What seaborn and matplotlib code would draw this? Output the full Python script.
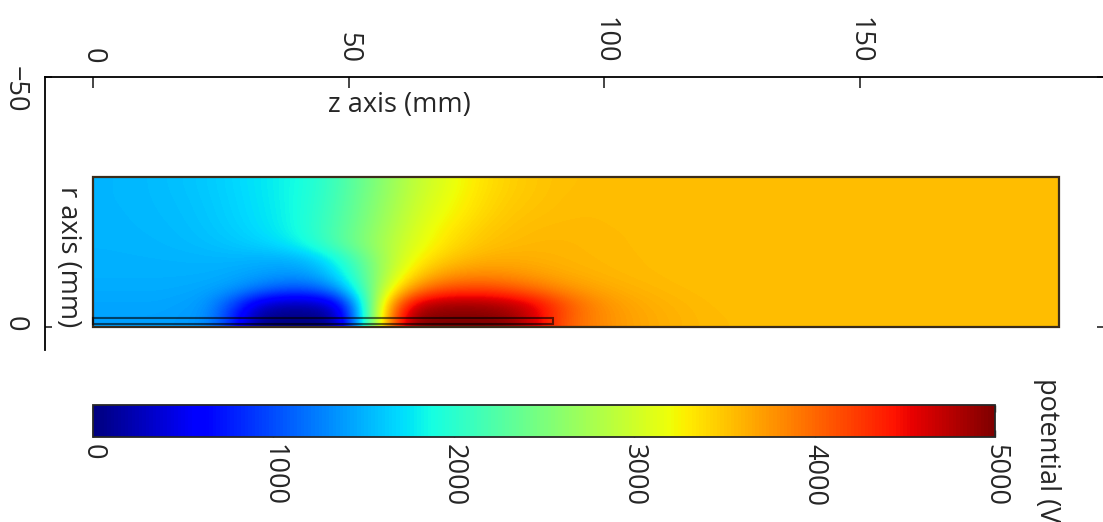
import numpy as np
import matplotlib
matplotlib.use("Agg")
import matplotlib.pyplot as plt
from matplotlib.patches import Rectangle
import seaborn as sns

# domain of the simulation (mm)
z_length = 189
r_length = 30
# electrode rod outline (z from, z to, r from, r to)
rod = [0, 90, -1.8, -0.7]

# potential (V), cells are 5 mm in z, 3 mm in r
# each row runs z = 2.5 ... 187.5 mm, rows from r = -28.5 down to r = -1.5
pot_r28 = [1520, 1530, 1550, 1580, 1620, 1680, 1750, 1830, 1930, 2120, 2370, 2620, 2880,
           3060, 3230, 3360, 3450, 3500, 3530, 3540, 3540, 3540, 3540, 3540, 3540,
           3540, 3540, 3540, 3540, 3540, 3540, 3540, 3540, 3540, 3540, 3540, 3540, 3540]
pot_r25 = [1520, 1530, 1545, 1570, 1610, 1670, 1740, 1830, 1950, 2140, 2400, 2660, 2920,
           3110, 3260, 3390, 3470, 3510, 3540, 3550, 3550, 3545, 3540, 3540, 3540,
           3540, 3540, 3540, 3540, 3540, 3540, 3540, 3540, 3540, 3540, 3540, 3540, 3540]
pot_r22 = [1515, 1525, 1540, 1560, 1600, 1660, 1730, 1820, 1960, 2170, 2430, 2700, 2960,
           3160, 3300, 3420, 3500, 3530, 3550, 3555, 3550, 3545, 3540, 3540, 3540,
           3540, 3540, 3540, 3540, 3540, 3540, 3540, 3540, 3540, 3540, 3540, 3540, 3540]
pot_r19 = [1510, 1520, 1530, 1550, 1585, 1640, 1710, 1810, 1970, 2200, 2470, 2750, 3020,
           3230, 3370, 3480, 3530, 3560, 3565, 3560, 3555, 3550, 3545, 3540, 3540,
           3540, 3540, 3540, 3540, 3540, 3540, 3540, 3540, 3540, 3540, 3540, 3540, 3540]
pot_r16 = [1505, 1510, 1520, 1535, 1560, 1600, 1650, 1730, 1910, 2200, 2500, 2800, 3070,
           3280, 3430, 3520, 3560, 3580, 3580, 3570, 3560, 3550, 3545, 3540, 3540,
           3540, 3540, 3540, 3540, 3540, 3540, 3540, 3540, 3540, 3540, 3540, 3540, 3540]
pot_r13 = [1500, 1500, 1502, 1505, 1510, 1510, 1490, 1480, 1550, 1820, 2270, 2780, 3170,
           3420, 3550, 3620, 3630, 3610, 3590, 3575, 3565, 3555, 3545, 3540, 3540,
           3540, 3540, 3540, 3540, 3540, 3540, 3540, 3540, 3540, 3540, 3540, 3540, 3540]
pot_r10 = [1490, 1490, 1490, 1490, 1485, 1460, 1420, 1380, 1400, 1650, 2170, 2820, 3350,
           3650, 3780, 3800, 3760, 3700, 3640, 3600, 3575, 3560, 3550, 3540, 3540,
           3540, 3540, 3540, 3540, 3540, 3540, 3540, 3540, 3540, 3540, 3540, 3540, 3540]
pot_r7 = [1470, 1470, 1470, 1460, 1440, 1380, 1200, 1050, 1050, 1300, 2000, 3000, 3750,
          4100, 4200, 4200, 4100, 3950, 3800, 3700, 3630, 3590, 3565, 3550, 3540,
          3540, 3540, 3540, 3540, 3540, 3540, 3540, 3540, 3540, 3540, 3540, 3540, 3540]
pot_r4 = [1440, 1440, 1440, 1420, 1370, 950, 380, 200, 200, 400, 1600, 3450, 4600,
          4850, 4880, 4850, 4750, 4520, 4150, 3880, 3730, 3650, 3600, 3570, 3550,
          3540, 3540, 3540, 3540, 3540, 3540, 3540, 3540, 3540, 3540, 3540, 3540, 3540]
pot_r1 = [1420, 1420, 1420, 1400, 1350, 800, 80, 0, 0, 100, 1500, 3650, 4900,
          5000, 5000, 5000, 4900, 4550, 4100, 3880, 3750, 3670, 3620, 3580, 3560,
          3550, 3540, 3540, 3540, 3540, 3540, 3540, 3540, 3540, 3540, 3540, 3540, 3540]

z_ticks = [0, 50, 100, 150]
r_ticks = [-50, 0]
cbar_ticks = [0, 1000, 2000, 3000, 4000, 5000]

potential = np.array([pot_r28, pot_r25, pot_r22, pot_r19, pot_r16,
                      pot_r13, pot_r10, pot_r7, pot_r4, pot_r1])

sns.set_style("ticks")
plt.rcParams["font.family"] = ["Open Sans", "DejaVu Sans"]
fs = 19.5

W, H = 1103, 522
fig = plt.figure(figsize=(W / 100, H / 100), dpi=100)

# main axes: left spine at x=45 px, top spine at y=77 px, runs off the right edge
ax = fig.add_axes([45 / W, 1 - 350 / H, (1104 - 45) / W, (350 - 77) / H])
im = ax.imshow(potential, cmap="jet", vmin=0, vmax=5000, origin="upper",
               extent=(0, z_length, 0, -r_length), aspect="auto",
               interpolation="bicubic")

ax.add_patch(Rectangle((0, -r_length), z_length, r_length, fill=False,
                       edgecolor="#3a2c1a", lw=1.6))
ax.add_patch(Rectangle((rod[0], rod[2]), rod[1] - rod[0], rod[3] - rod[2], fill=False,
                       edgecolor="black", alpha=0.6, lw=1.5))

ax.set_xlim((45 - 93) / 5.113, (1104 - 93) / 5.113)
ax.set_ylim(4.6, -50)

ax.xaxis.tick_top()
ax.set_xticks(z_ticks)
ax.set_yticks(r_ticks)
ax.set_yticklabels(["\u221250", "0"])
ax.tick_params(axis="x", direction="in", length=8, width=1.2, pad=10,
               labelsize=fs, labelrotation=-90, bottom=False)
ax.tick_params(axis="y", direction="in", length=5, width=1.2, pad=12,
               labelsize=fs, labelrotation=-90, right=True)
ax.spines["bottom"].set_visible(False)
for side in ["top", "left", "right"]:
    ax.spines[side].set_linewidth(1.3)
    ax.spines[side].set_color("black")

fig.text(399 / W, 1 - 105 / H, "z axis (mm)", ha="center", va="center", fontsize=fs)
fig.text(68 / W, 1 - 257 / H, "r axis (mm)", ha="center", va="center",
         fontsize=fs, rotation=-90)

# colour bar underneath
cax = fig.add_axes([93 / W, 1 - 437 / H, (995 - 93) / W, (437 - 405) / H])
cb = fig.colorbar(im, cax=cax, orientation="horizontal")
cb.set_ticks(cbar_ticks)
cb.outline.set_linewidth(1.3)
cax.tick_params(direction="in", length=5, width=1, top=True, pad=5,
                labelsize=fs, labelrotation=-90)
fig.text(1047 / W, 1 - 378 / H, "potential (V)", ha="center", va="top",
         fontsize=fs, rotation=-90)

fig.savefig("out.png", dpi=100)
